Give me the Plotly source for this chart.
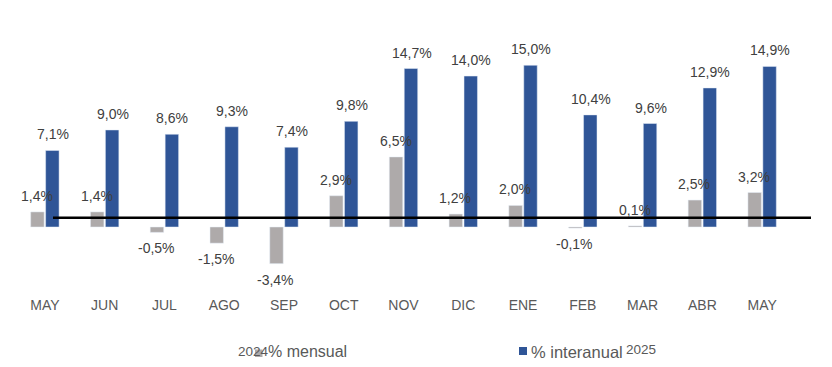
import plotly.graph_objects as go

categories = ["MAY", "JUN", "JUL", "AGO", "SEP", "OCT", "NOV", "DIC", "ENE", "FEB", "MAR", "ABR", "MAY"]
mensual = [1.4, 1.4, -0.5, -1.5, -3.4, 2.9, 6.5, 1.2, 2.0, -0.1, 0.1, 2.5, 3.2]
interanual = [7.1, 9.0, 8.6, 9.3, 7.4, 9.8, 14.7, 14.0, 15.0, 10.4, 9.6, 12.9, 14.9]
year_labels = ["2024", "2025"]

GRAY = "#AEAAAA"
BLUE = "#2F5597"
FONT = "Liberation Sans, Arial, sans-serif"

W, H = 832, 367
ML, MR, MT, MB = 15, 40, 30, 72
PW, PH = W - ML - MR, H - MT - MB

def px_x(p):
    return (p - ML) / PW

def px_y(p):
    return (H - MB - p) / PH

def fmt(v):
    return f"{v:.1f}".replace(".", ",") + "%"

xs = list(range(len(categories)))

fig = go.Figure()
fig.add_trace(go.Bar(x=xs, y=mensual, name="% mensual", marker_color=GRAY, showlegend=False,
                     hoverinfo="skip"))
fig.add_trace(go.Bar(x=xs, y=interanual, name="% interanual", marker_color=BLUE, showlegend=False,
                     hoverinfo="skip"))

annotations = []
for i, v in enumerate(mensual):
    annotations.append(dict(x=i, y=v, xref="x", yref="y", text=fmt(v), showarrow=False,
                            xshift=-8, yshift=16 if v >= 0 else -16, yanchor="middle",
                            font=dict(family=FONT, size=14, color="#404040")))
for i, v in enumerate(interanual):
    annotations.append(dict(x=i, y=v, xref="x", yref="y", text=fmt(v), showarrow=False,
                            xshift=8, yshift=16, yanchor="middle",
                            font=dict(family=FONT, size=14, color="#404040")))

# legend (manual)
annotations.append(dict(x=px_x(266), y=px_y(351.5), xref="paper", yref="paper", text="% mensual",
                        showarrow=False, xanchor="left", yanchor="middle",
                        font=dict(family=FONT, size=16, color="#595959")))
annotations.append(dict(x=px_x(529), y=px_y(351.5), xref="paper", yref="paper", text="% interanual",
                        showarrow=False, xanchor="left", yanchor="middle",
                        font=dict(family=FONT, size=16.5, color="#595959")))
annotations.append(dict(x=px_x(236), y=px_y(351), xref="paper", yref="paper", text=year_labels[0],
                        showarrow=False, xanchor="left", yanchor="middle",
                        font=dict(family=FONT, size=13.5, color="#595959")))
annotations.append(dict(x=px_x(624), y=px_y(349), xref="paper", yref="paper", text=year_labels[1],
                        showarrow=False, xanchor="left", yanchor="middle",
                        font=dict(family=FONT, size=13.5, color="#595959")))

shapes = [
    dict(type="line", xref="paper", yref="paper", x0=px_x(53), x1=px_x(811),
         y0=px_y(217.7), y1=px_y(217.7), line=dict(color="black", width=2.5)),
    dict(type="rect", xref="paper", yref="paper", x0=px_x(255), x1=px_x(262.5),
         y0=px_y(357), y1=px_y(349.5), fillcolor=GRAY, line=dict(width=0)),
    dict(type="rect", xref="paper", yref="paper", x0=px_x(519), x1=px_x(527),
         y0=px_y(355), y1=px_y(347), fillcolor=BLUE, line=dict(width=0)),
]

scale = 10.78  # px per percentage point
base_px = 227
ymin = -(H - MB - base_px) / scale
ymax = (base_px - MT) / scale

fig.update_layout(
    width=W, height=H,
    margin=dict(l=ML, r=MR, t=MT, b=MB),
    paper_bgcolor="white", plot_bgcolor="white",
    barmode="group", bargap=0.5, bargroupgap=0.1,
    font=dict(family=FONT, size=14, color="#595959"),
    xaxis=dict(tickvals=xs, ticktext=categories, range=[-0.5, len(xs) - 0.5],
               showgrid=False, zeroline=False, showline=False, ticks="",
               tickfont=dict(family=FONT, size=14, color="#595959")),
    yaxis=dict(range=[ymin, ymax], visible=False, showgrid=False, zeroline=False),
    annotations=annotations,
    shapes=shapes,
    showlegend=False,
)

fig.write_html("out.html", config={"displayModeBar": False},
               post_script="document.body.style.margin='0';document.body.style.padding='0';")
